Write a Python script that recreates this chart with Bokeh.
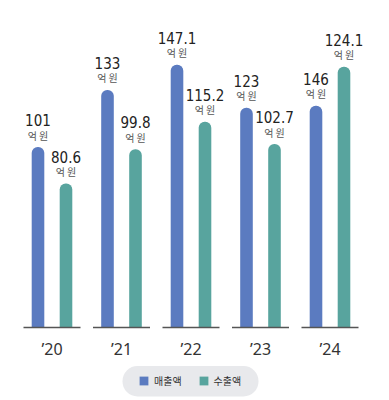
from bokeh.plotting import figure
from bokeh.models import Legend, LegendItem, Range1d
from bokeh.core.properties import value
from bokeh.embed import file_html
from bokeh.resources import INLINE

# ---- data (as drawn in the reference picture) ----
years = ["\u201920", "\u201921", "\u201922", "\u201923", "\u201924"]
sales_bars = [101, 133, 147.1, 123, 124.1]        # 매출액 bar heights as drawn
exports_bars = [80.6, 99.8, 115.2, 102.7, 146]    # 수출액 bar heights as drawn
sales_labels = ["101", "133", "147.1", "123", "146"]
exports_labels = ["80.6", "99.8", "115.2", "102.7", "124.1"]
series_names = ["매출액", "수출액"]
unit = "억 원"

BLUE = "#5b7bc0"
TEAL = "#58a49e"

W, H = 389, 400
# layout helpers (pixel -> data)
X0, DX = 51.5, 69.5       # first group centre px, group spacing px
Y0, SY = 327.0, 1.786     # baseline px, px per unit


def px_x(px):
    return (px - X0) / DX


def px_y(py):
    return (Y0 - py) / SY


p = figure(width=W, height=H, x_range=Range1d(px_x(0), px_x(W)),
           y_range=Range1d(px_y(H), px_y(0)), min_border=0,
           toolbar_location=None, output_backend="svg")
p.axis.visible = False
p.grid.visible = False
p.outline_line_color = None
p.background_fill_color = "white"
p.border_fill_color = "white"

xs = list(range(len(years)))
off = 14 / DX
bw = 12.6 / DX
bx = [x - off for x in xs]
tx = [x + off for x in xs]

# legend pill background
p.quad(left=px_x(122), right=px_x(258), top=px_y(365.5), bottom=px_y(396),
       fill_color="#e8e9ec", line_color=None, border_radius=15)

rb = p.vbar(x=bx, top=sales_bars, bottom=0, width=bw, fill_color=BLUE,
            line_color=None, border_radius=(6, 6, 0, 0))
rt = p.vbar(x=tx, top=exports_bars, bottom=0, width=bw, fill_color=TEAL,
            line_color=None, border_radius=(6, 6, 0, 0))

half = 28.5 / DX
p.segment(x0=[x - half for x in xs], x1=[x + half for x in xs],
          y0=[0] * len(xs), y1=[0] * len(xs), line_color="#555555", line_width=1.5)

num_font = value("DejaVu Sans Condensed")
kr_font = value("Noto Sans CJK KR")
for xv, vals, labs in ((bx, sales_bars, sales_labels), (tx, exports_bars, exports_labels)):
    p.text(x=xv, y=vals, text=labs, y_offset=-27,
           text_align="center", text_baseline="middle", text_font=num_font,
           text_font_size="15px", text_color="#222222")
    p.text(x=xv, y=vals, text=[unit] * len(vals), y_offset=-12,
           text_align="center", text_baseline="middle", text_font=kr_font,
           text_font_size="10px", text_color="#555555")

p.text(x=xs, y=[0] * len(xs), text=years, y_offset=21, text_align="center",
       text_baseline="middle", text_font=value("Noto Sans"),
       text_font_size="16px", text_color="#333333")

legend = Legend(items=[LegendItem(label=series_names[0], renderers=[rb]),
                       LegendItem(label=series_names[1], renderers=[rt])],
                orientation="horizontal", location=(138, 12), padding=0, margin=0,
                spacing=16, label_standoff=5, glyph_width=11, glyph_height=11,
                label_height=11, label_text_font="Noto Sans CJK KR", label_text_font_size="10px",
                label_text_color="#333333", background_fill_alpha=0,
                border_line_alpha=0)
p.add_layout(legend)

open("out.html", "w").write(file_html(p, INLINE))
